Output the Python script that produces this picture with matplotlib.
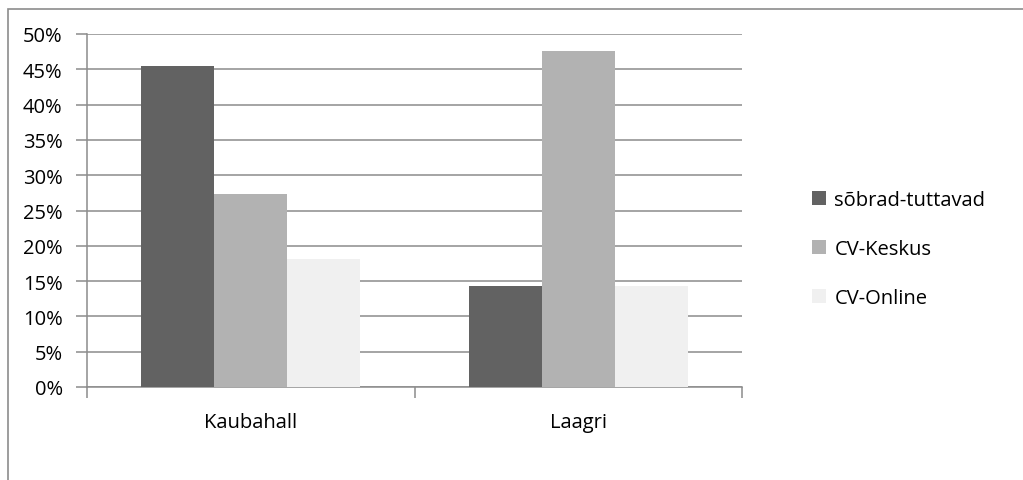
import matplotlib
matplotlib.use("Agg")
import matplotlib.pyplot as plt
from matplotlib.patches import Rectangle
import numpy as np

categories = ["Kaubahall", "Laagri"]
series_names = ["sõbrad-tuttavad", "CV-Keskus", "CV-Online"]
sobrad = [0.4545, 0.1429]
cv_keskus = [0.2727, 0.4762]
cv_online = [0.1818, 0.1429]
yticks = [0, 0.05, 0.10, 0.15, 0.20, 0.25, 0.30, 0.35, 0.40, 0.45, 0.50]
ytick_labels = ["0%", "5%", "10%", "15%", "20%", "25%", "30%", "35%", "40%", "45%", "50%"]

colors = ["#626262", "#b2b2b2", "#f0f0f0"]
plt.rcParams['font.family'] = ['Open Sans', 'DejaVu Sans']
FS = 14.5

W, H = 1023, 481
fig = plt.figure(figsize=(W/100, H/100), dpi=100)
fig.patches.append(Rectangle((8/W, -0.1), 1.2, 1 - 10/H + 0.1, transform=fig.transFigure,
                             fill=False, edgecolor="#8c8c8c", linewidth=1.2))

ax = fig.add_axes([87/W, 93/H, 655/W, 353/H])
x = np.arange(len(categories))
bw = 0.223
for i, (vals, c, n) in enumerate(zip([sobrad, cv_keskus, cv_online], colors, series_names)):
    ax.bar(x + (i - 1) * bw, vals, width=bw, color=c, label=n, zorder=3, linewidth=0)

ax.set_xlim(-0.5, len(categories) - 0.5)
ax.set_ylim(0, 0.5)
ax.set_yticks(yticks)
ax.set_yticklabels(ytick_labels, fontsize=FS)
ax.yaxis.grid(True, color="#8c8c8c", linewidth=1.1, zorder=0)
ax.set_xticks(x)
ax.set_xticklabels(categories, fontsize=FS)
ax.set_xticks(np.arange(-0.5, len(categories)), minor=True)
ax.tick_params(axis='x', which='major', length=0, pad=18)
ax.tick_params(axis='x', which='minor', length=8, color="#8c8c8c", width=1.1)
ax.tick_params(axis='y', length=8, color="#8c8c8c", width=1.1, pad=9.5)
for s in ["top", "right"]:
    ax.spines[s].set_visible(False)
for s in ["left", "bottom"]:
    ax.spines[s].set_color("#8c8c8c")
    ax.spines[s].set_linewidth(1.1)

leg = fig.legend(loc="center left", bbox_to_anchor=(798/W, 1 - 250/H), frameon=False,
                 fontsize=FS, handlelength=0.7, handleheight=0.7, handletextpad=0.4,
                 labelspacing=1.42, borderpad=0.2)

fig.savefig("out.png", dpi=100)
